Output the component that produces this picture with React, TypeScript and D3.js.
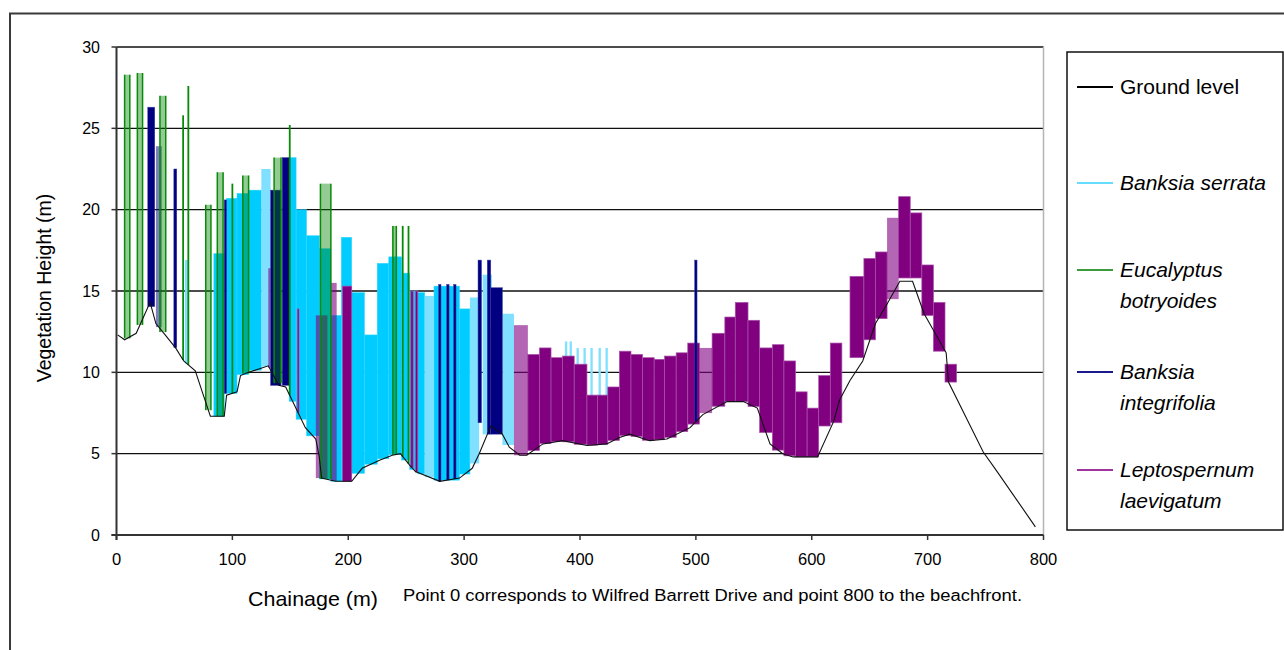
import React from "react";
import * as d3 from "d3";

// ---------- data ----------
const groundChainage = [1, 7, 17, 29, 34, 42, 51, 58, 68, 74, 81, 93, 95, 104, 107, 114, 131, 140, 146, 163, 172, 175, 177, 189, 203, 212, 227, 238, 245, 253, 258, 279, 296, 307, 313, 323, 333, 339, 348, 354, 368, 385, 406, 423, 434, 443, 460, 475, 495, 506, 527, 541, 553, 564, 575, 584, 605, 619, 624, 633, 644, 655, 665, 676, 687, 697, 716, 718, 748, 760, 793];
const groundLevel = [12.3, 12.0, 12.4, 14.3, 13.0, 12.3, 11.5, 10.7, 10.1, 8.8, 7.3, 7.3, 8.6, 8.8, 9.8, 10.0, 10.4, 9.2, 9.1, 6.6, 5.9, 4.8, 3.5, 3.3, 3.3, 4.1, 4.6, 4.9, 5.0, 4.3, 3.9, 3.3, 3.5, 4.1, 5.0, 6.7, 6.2, 5.4, 4.9, 4.9, 5.6, 5.8, 5.5, 5.6, 6.0, 6.2, 5.8, 5.9, 6.6, 7.4, 8.2, 8.2, 7.8, 5.6, 5.0, 4.8, 4.8, 7.0, 8.3, 9.5, 10.7, 13.0, 14.2, 15.6, 15.6, 13.6, 11.2, 9.4, 5.1, 3.9, 0.5];

// [from chainage, to chainage, canopy height, optional base height]
const serrataBars = [
  [84, 93, 17.3], [95, 104, 20.7], [104, 114, 21.0], [114, 125, 21.2], [149, 155, 23.2],
  [155, 164, 20.0], [164, 175, 18.4], [175, 185, 17.6], [185, 194, 13.5], [194, 203, 18.3],
  [203, 214, 14.9], [214, 225, 12.3], [225, 235, 16.7], [235, 246, 17.1], [246, 253, 16.1],
  [253, 260, 15.0], [260, 266, 14.9], [274, 296, 15.3], [296, 305, 13.9],
];
const serrataPaleBars = [
  [59, 62, 16.9], [125, 133, 22.5], [266, 274, 14.7], [305, 313, 14.6], [316, 324, 16.0],
  [333, 343, 13.6], [387, 389, 11.9], [391, 393, 11.9], [397, 399, 11.5], [403, 405, 11.5],
  [409, 411, 11.5], [416, 418, 11.5], [422, 424, 11.5],
];
const integrifoliaBars = [
  [27, 33, 26.3], [49.5, 52, 22.5], [93, 95, 20.6, 8.7], [133, 142, 21.2, 9.2], [143, 149, 23.2, 9.2],
  [278, 280, 15.4], [285, 287, 15.4], [291, 293, 15.4], [312, 315, 16.9, 6.9],
  [320, 323, 16.9, 6.2], [323, 333, 15.2, 6.2], [499, 501, 16.9, 7.0],
];
const integrifoliaPaleBars = [[34, 39, 23.9]];
const botryoidesBars = [
  [7, 11.5, 28.3], [18, 22.5, 28.4], [37.5, 42.5, 27.0], [77, 81.5, 20.3], [87, 92, 22.3],
  [109, 114, 22.1], [136, 142, 23.2], [176, 185, 21.6], [238.5, 241.5, 19.0],
];
const botryoidesStems = [
  [57.5, 25.8], [62, 27.6], [100, 21.6], [149.5, 25.2], [247, 19.0], [252, 19.0],
];
const laevigatumBars = [
  [156, 157.5, 13.9], [195, 203, 15.3], [254, 256, 15.0], [258, 260, 15.0], [322.5, 324, 12.9],
  [355, 365, 11.1], [365, 375, 11.5], [375, 385, 10.9], [385, 395, 11.0], [395, 406, 10.5],
  [406, 415, 8.6], [415, 424, 8.6], [424, 434, 9.1], [434, 444, 11.3], [444, 454, 11.1],
  [454, 464, 10.9], [464, 473, 10.8], [473, 483, 11.0], [483, 493, 11.2], [493, 503, 11.8],
  [514, 525, 12.4], [525, 534, 13.4], [534, 545, 14.3], [545, 555, 13.2], [555, 566, 11.5],
  [566, 576, 11.7], [576, 586, 10.7], [586, 596, 8.8], [596, 606, 7.8], [606, 616, 9.8, 6.7],
  [616, 626, 11.8, 6.9], [633, 645, 15.9, 10.9], [645, 655, 17.0, 12.0], [655, 665, 17.4, 13.3],
  [675, 685, 20.8, 15.8], [685, 695, 19.8, 15.8], [695, 705, 16.6, 13.5], [705, 715, 14.3, 11.3],
  [715, 725, 10.5, 9.4],
];
const laevigatumPaleBars = [
  [131, 133, 16.4], [172, 182, 13.5], [185, 190, 15.5], [343, 355, 12.9], [503, 514, 11.5],
  [665, 675, 19.5, 14.5],
];

const xTicks = [0, 100, 200, 300, 400, 500, 600, 700, 800];
const yTicks = [0, 5, 10, 15, 20, 25, 30];

const legendItems = [
  { lines: ["Ground level"], color: "#000000", italic: false },
  { lines: ["Banksia serrata"], color: "#66dcff", italic: true },
  { lines: ["Eucalyptus", "botryoides"], color: "#3d9a3d", italic: true },
  { lines: ["Banksia", "integrifolia"], color: "#1a1a8c", italic: true },
  { lines: ["Leptospernum", "laevigatum"], color: "#a035a0", italic: true },
];
const legendY = [87, 183, 270, 372, 470];

// ---------- chart ----------
const FONT = "'Liberation Sans', Arial, sans-serif";

export default function App() {
  const x = d3.scaleLinear().domain([0, 800]).range([116.5, 1043.5]);
  const y = d3.scaleLinear().domain([0, 30]).range([535, 47]);
  const groundAt = d3.scaleLinear().domain(groundChainage).range(groundLevel).clamp(true);

  const groundPath = d3
    .line<number>()
    .x((_, i) => x(groundChainage[i]))
    .y((d) => y(d))(groundLevel);

  const barRect = (b: number[], key: string, props: any) => {
    const [x0, x1, top, base] = b;
    const bot = base !== undefined ? base : groundAt((x0 + x1) / 2);
    const px0 = x(x0);
    const w = Math.max(1.5, x(x1) - px0);
    return <rect key={key} x={px0} y={y(top)} width={w} height={Math.max(0, y(bot) - y(top))} {...props} />;
  };

  return (
    <svg width={1284} height={650} style={{ position: "absolute", left: 0, top: 0, background: "#fff" }} fontFamily={FONT}>
      <rect x={10} y={13.5} width={1300} height={700} fill="#fff" stroke="#3a3a3a" strokeWidth={2} />

      {/* gridlines */}
      {yTicks.filter((t) => t > 0).map((t) => (
        <line key={"g" + t} x1={x(0)} x2={x(800)} y1={y(t)} y2={y(t)} stroke="#111" strokeWidth={1.3} />
      ))}
      <line x1={x(800)} x2={x(800)} y1={y(30)} y2={y(0)} stroke="#b5b5b5" strokeWidth={1.5} />

      {/* Banksia serrata */}
      <g>
        {serrataBars.map((b, i) => barRect(b, "s" + i, { fill: "#00ccff", stroke: "#33d6ff", strokeWidth: 0.5 }))}
        {serrataPaleBars.map((b, i) => barRect(b, "sp" + i, { fill: "#7fe0ff" }))}
      </g>
      {/* Leptospernum laevigatum */}
      <g>
        {laevigatumBars.map((b, i) => barRect(b, "l" + i, { fill: "#800080", stroke: "#a952a9", strokeWidth: 0.7 }))}
        {laevigatumPaleBars.map((b, i) => barRect(b, "lp" + i, { fill: "#800080", fillOpacity: 0.6 }))}
      </g>
      {/* Banksia integrifolia */}
      <g>
        {integrifoliaBars.map((b, i) => barRect(b, "n" + i, { fill: "#000080", stroke: "#3a3aa0", strokeWidth: 0.5 }))}
        {integrifoliaPaleBars.map((b, i) => barRect(b, "np" + i, { fill: "#000080", fillOpacity: 0.5 }))}
      </g>
      {/* Eucalyptus botryoides */}
      <g>
        {botryoidesBars.map((b, i) => {
          const [x0, x1, top] = b;
          const bot = groundAt((x0 + x1) / 2);
          return (
            <g key={"e" + i}>
              {barRect(b, "er" + i, { fill: "#008000", fillOpacity: 0.42 })}
              <line x1={x(x0)} x2={x(x0)} y1={y(top)} y2={y(bot)} stroke="#078a07" strokeWidth={1.5} />
              <line x1={x(x1)} x2={x(x1)} y1={y(top)} y2={y(bot)} stroke="#078a07" strokeWidth={1.5} />
            </g>
          );
        })}
        {botryoidesStems.map(([c, top], i) => (
          <line key={"es" + i} x1={x(c)} x2={x(c)} y1={y(top)} y2={y(groundAt(c))} stroke="#078a07" strokeWidth={1.8} />
        ))}
      </g>

      {/* ground */}
      <path d={groundPath || ""} fill="none" stroke="#111" strokeWidth={1.1} />

      {/* axes */}
      <line x1={x(0)} x2={x(0)} y1={y(30)} y2={y(0) + 5} stroke="#333" strokeWidth={2} />
      <line x1={x(0) - 5} x2={x(800)} y1={y(0)} y2={y(0)} stroke="#333" strokeWidth={2} />
      {yTicks.map((t) => (
        <g key={"yt" + t}>
          <line x1={x(0) - 5} x2={x(0)} y1={y(t)} y2={y(t)} stroke="#333" strokeWidth={1.5} />
          <text x={100} y={y(t)} dy="0.35em" textAnchor="end" fontSize={16} fill="#000">{t}</text>
        </g>
      ))}
      {xTicks.map((t) => (
        <g key={"xt" + t}>
          <line x1={x(t)} x2={x(t)} y1={y(0)} y2={y(0) + 5} stroke="#333" strokeWidth={1.5} />
          <text x={x(t)} y={565} textAnchor="middle" fontSize={16.5} fill="#000">{t}</text>
        </g>
      ))}

      <text x={248} y={606} fontSize={21} fill="#000" textLength={130} lengthAdjust="spacingAndGlyphs">Chainage (m)</text>
      <text x={403} y={601} fontSize={16} fill="#000" textLength={619} lengthAdjust="spacingAndGlyphs">
        Point 0 corresponds to Wilfred Barrett Drive and point 800 to the beachfront.
      </text>
      <text transform="translate(51,288) rotate(-90)" textAnchor="middle" fontSize={19.5} fill="#000">Vegetation Height (m)</text>

      {/* legend */}
      <rect x={1067} y={52} width={216} height={478} fill="#fff" stroke="#111" strokeWidth={1.5} />
      {legendItems.map((it, i) => (
        <g key={"lg" + i}>
          <line x1={1077} x2={1113} y1={legendY[i]} y2={legendY[i]} stroke={it.color} strokeWidth={2} />
          {it.lines.map((ln, j) => (
            <text key={j} x={1120} y={legendY[i] + 7 + j * 31} fontSize={21} fontStyle={it.italic ? "italic" : "normal"} fill="#000">
              {ln}
            </text>
          ))}
        </g>
      ))}
    </svg>
  );
}
